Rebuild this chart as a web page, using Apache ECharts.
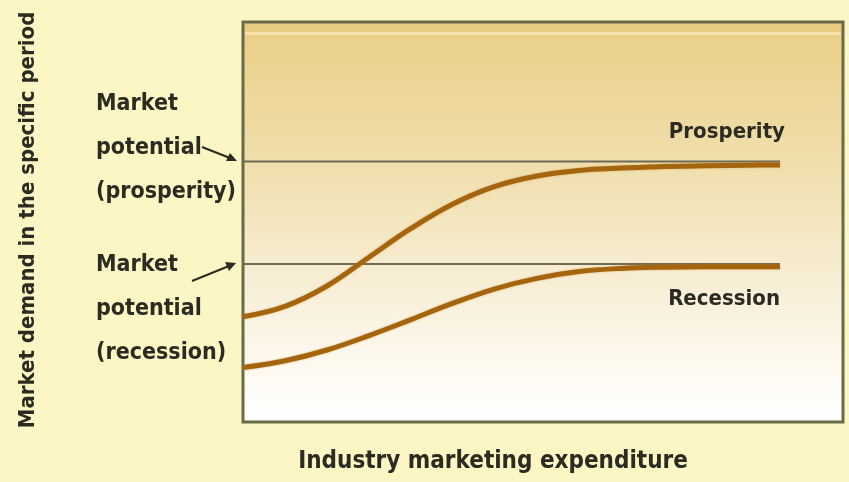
<!DOCTYPE html>
<html>
<head>
<meta charset="utf-8">
<script src="https://cdn.jsdelivr.net/npm/echarts@6/dist/echarts.min.js"></script>
<style>
  html, body { margin: 0; padding: 0; background: #fbf6c4; }
  #main { width: 849px; height: 482px; }
</style>
</head>
<body>
<div id="main"></div>
<script>
// expenditure (x) and demand (y), arbitrary 0-100 scale
var spendX = [0, 7, 14, 21, 28, 35, 42, 49, 56, 63, 70, 77, 84, 89.5];
var prosperityY = [26.3, 28.9, 34.0, 41.2, 48.4, 54.5, 58.9, 61.5, 62.9, 63.5, 63.85, 64.05, 64.2, 64.25];
var recessionY = [13.6, 15.3, 18.0, 21.6, 25.6, 29.7, 33.3, 35.9, 37.6, 38.4, 38.7, 38.8, 38.8, 38.8];
var potentialProsperity = 65.1;
var potentialRecession = 39.5;
var curveEnd = 89.5;

function pairs(xs, ys) {
    var out = [];
    for (let i = 0; i < xs.length; i++) out.push([xs[i], ys[i]]);
    return out;
}

var textFont = '"Liberation Sans Narrow", "DejaVu Sans Condensed", "Roboto", sans-serif';
var textColor = '#2b2b22';
var curveColor = '#a5650e';
var thinColor = '#6d6b55';

function curve(name, data) {
    return {
        name: name,
        type: 'line',
        smooth: 0.4,
        symbol: 'none',
        lineStyle: {
            color: curveColor, width: 5,
            shadowColor: 'rgba(200,140,40,0.6)', shadowBlur: 2
        },
        data: data
    };
}

function level(name, value) {
    return {
        name: name,
        type: 'line',
        symbol: 'none',
        lineStyle: { color: thinColor, width: 2 },
        data: [[0, value], [curveEnd, value]]
    };
}

function label(x, y, text, align, size) {
    return {
        type: 'text', z: 10, x: x, y: y,
        style: {
            text: text, font: 'bold ' + (size || 23) + 'px ' + textFont,
            fill: textColor, lineHeight: 44,
            align: align || 'left', verticalAlign: 'top'
        }
    };
}

var option = {
    backgroundColor: '#fbf6c4',
    animation: false,
    grid: {
        left: 243,
        right: 6,
        top: 22,
        bottom: 60,
        show: true,
        borderColor: '#6b6a48',
        borderWidth: 3,
        backgroundColor: new echarts.graphic.LinearGradient(0, 0, 0, 1, [
            { offset: 0, color: '#e7c97a' },
            { offset: 0.05, color: '#ead08a' },
            { offset: 0.25, color: '#eed9a0' },
            { offset: 0.45, color: '#f2e3b8' },
            { offset: 0.65, color: '#f8eed6' },
            { offset: 0.85, color: '#fdf9ef' },
            { offset: 1, color: '#ffffff' }
        ])
    },
    xAxis: {
        type: 'value', min: 0, max: 100,
        axisLine: { show: false },
        axisTick: { show: false },
        axisLabel: { show: false },
        splitLine: { show: false }
    },
    yAxis: {
        type: 'value', min: 0, max: 100,
        axisLine: { show: false },
        axisTick: { show: false },
        axisLabel: { show: false },
        splitLine: { show: false }
    },
    series: [
        level('potential prosperity', potentialProsperity),
        level('potential recession', potentialRecession),
        curve('Prosperity', pairs(spendX, prosperityY)),
        curve('Recession', pairs(spendX, recessionY))
    ],
    graphic: [
        // lighter streak under the top edge
        {
            type: 'rect', silent: true, z: 1,
            shape: { x: 245, y: 32, width: 596, height: 3 },
            style: { fill: 'rgba(255,240,200,0.55)' }
        },
        {
            type: 'text', z: 10,
            x: 28, y: 220, rotation: Math.PI / 2,
            style: {
                text: 'Market demand in the specific period',
                font: 'bold 22px ' + textFont, fill: textColor,
                align: 'center', verticalAlign: 'middle'
            }
        },
        {
            type: 'text', z: 10,
            x: 493, y: 462,
            style: {
                text: 'Industry marketing expenditure',
                font: 'bold 24px ' + textFont, fill: textColor,
                align: 'center', verticalAlign: 'middle'
            }
        },
        label(96, 82, 'Market\npotential\n(prosperity)'),
        label(96, 243, 'Market\npotential\n(recession)'),
        label(785, 110, 'Prosperity', 'right', 22),
        label(780, 277, 'Recession', 'right', 22),
        // pointers from the left labels to the potential lines
        {
            type: 'line', z: 10,
            shape: { x1: 202, y1: 147, x2: 230, y2: 158 },
            style: { stroke: textColor, lineWidth: 2 }
        },
        {
            type: 'polygon', z: 10,
            shape: { points: [[237, 161], [226, 161], [230, 153]] },
            style: { fill: textColor }
        },
        {
            type: 'line', z: 10,
            shape: { x1: 192, y1: 281, x2: 229, y2: 266 },
            style: { stroke: textColor, lineWidth: 2 }
        },
        {
            type: 'polygon', z: 10,
            shape: { points: [[236, 263], [225, 262], [229, 271]] },
            style: { fill: textColor }
        }
    ]
};

var myChart = echarts.init(document.getElementById('main'));
myChart.setOption(option);
</script>
</body>
</html>
